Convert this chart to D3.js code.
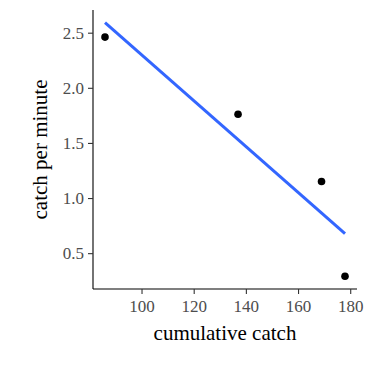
<!DOCTYPE html>
<html>
<head>
<meta charset="utf-8">
<script src="https://cdn.jsdelivr.net/npm/d3@7"></script>
<style>
  body { margin: 0; background: #fff; }
  svg text { font-family: "Liberation Serif", "DejaVu Serif", serif; }
</style>
</head>
<body>
<div id="graph"></div>
<script>
var cumCatch = [86, 137, 169, 178]
var catchPerMin = [2.46, 1.76, 1.15, 0.29]
var xTicks = [100, 120, 140, 160, 180]
var yTicks = [0.5, 1.0, 1.5, 2.0, 2.5]

var width = 375, height = 367
var margin = {top: 10, left: 93, bottom: 78, right: 18}

var svg = d3.select("#graph").append("svg")
            .attr("width", width).attr("height", height)

// least squares fit, like geom_smooth(method = "lm", se = FALSE)
var mx = d3.mean(cumCatch), my = d3.mean(catchPerMin)
var sxy = d3.sum(cumCatch, function(d, i){ return (d - mx) * (catchPerMin[i] - my) })
var sxx = d3.sum(cumCatch, function(d){ return (d - mx) * (d - mx) })
var slope = sxy / sxx
var icpt = my - slope * mx
var xExt = d3.extent(cumCatch)
var fit = xExt.map(function(x){ return [x, icpt + slope * x] })

// 5% expansion of the data range
var yAll = catchPerMin.concat(fit.map(function(d){ return d[1] }))
var yExt = d3.extent(yAll)
var xPad = (xExt[1] - xExt[0]) * 0.05, yPad = (yExt[1] - yExt[0]) * 0.05

var x = d3.scaleLinear()
          .domain([xExt[0] - xPad, xExt[1] + xPad])
          .range([margin.left, width - margin.right])
var y = d3.scaleLinear()
          .domain([yExt[0] - yPad, yExt[1] + yPad])
          .range([height - margin.bottom, margin.top])

var xAxis = svg.append("g")
   .attr("transform", "translate(0," + (height - margin.bottom) + ")")
   .call(d3.axisBottom(x).tickValues(xTicks).tickSize(5).tickPadding(6).tickFormat(d3.format("d")))
var yAxis = svg.append("g")
   .attr("transform", "translate(" + margin.left + ",0)")
   .call(d3.axisLeft(y).tickValues(yTicks).tickSize(5).tickPadding(4).tickFormat(d3.format(".1f")))

svg.selectAll(".domain").attr("stroke", "#000").attr("stroke-width", 1.1)
xAxis.select(".domain").attr("d", "M" + x.range()[0] + ",0H" + x.range()[1])
yAxis.select(".domain").attr("d", "M0," + y.range()[0] + "V" + y.range()[1])
svg.selectAll(".tick line").attr("stroke", "#333").attr("stroke-width", 1.1)
svg.selectAll(".tick text").attr("fill", "#4d4d4d").attr("font-size", "17px")
   .style("font-family", "'Liberation Serif', serif")

svg.append("path")
   .datum(fit)
   .attr("d", d3.line().x(function(d){ return x(d[0]) }).y(function(d){ return y(d[1]) }))
   .attr("stroke", "#3366FF").attr("stroke-width", 3).attr("fill", "none")

svg.selectAll("circle.pt")
   .data(cumCatch)
   .enter().append("circle").classed("pt", true)
   .attr("cx", function(d){ return x(d) })
   .attr("cy", function(d, i){ return y(catchPerMin[i]) })
   .attr("r", 3.8)
   .attr("fill", "#000")

svg.append("text")
   .attr("x", (x.range()[0] + x.range()[1]) / 2)
   .attr("y", 340)
   .attr("text-anchor", "middle")
   .attr("font-size", "21px")
   .text("cumulative catch")

svg.append("text")
   .attr("transform", "translate(47," + ((y.range()[0] + y.range()[1]) / 2) + ") rotate(-90)")
   .attr("text-anchor", "middle")
   .attr("font-size", "21px")
   .text("catch per minute")
</script>
</body>
</html>
